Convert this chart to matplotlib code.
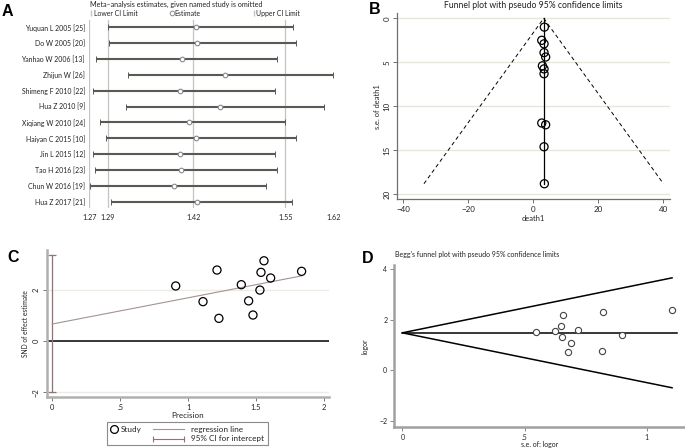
import matplotlib
matplotlib.use('Agg')
import matplotlib.pyplot as plt
from matplotlib.patches import Rectangle
from matplotlib import font_manager
import numpy as np

_names = {f.name for f in font_manager.fontManager.ttflist}
FAM = (['Liberation Sans Narrow'] if 'Liberation Sans Narrow' in _names else []) + ['Lato', 'DejaVu Sans']
plt.rcParams['font.family'] = FAM
plt.rcParams['axes.unicode_minus'] = True

# ---------------- data ----------------
# Panel A: sensitivity analysis (study omitted)
studies = ["Yuquan L 2005 [25]", "Do W 2005 [20]", "Yanhao W 2006 [13]", "Zhijun W [26]",
           "Shimeng F 2010 [22]", "Hua Z 2010 [9]", "Xiqiang W 2010 [24]", "Haiyan C 2015 [10]",
           "Jin L 2015 [12]", "Tao H 2016 [23]", "Chun W 2016 [19]", "Hua Z 2017 [21]"]
a_est = [1.419, 1.421, 1.398, 1.462, 1.395, 1.454, 1.408, 1.419, 1.395, 1.397, 1.386, 1.421]
a_low = [1.290, 1.291, 1.273, 1.320, 1.268, 1.317, 1.279, 1.287, 1.268, 1.271, 1.263, 1.294]
a_up = [1.561, 1.566, 1.538, 1.619, 1.534, 1.606, 1.549, 1.565, 1.534, 1.537, 1.521, 1.560]
a_ticks = [1.2625, 1.29, 1.415, 1.55, 1.62]
a_ticklabels = ["1.27", "1.29", "1.42", "1.55", "1.62"]
a_overall = [1.29, 1.415, 1.55]

# Panel B: funnel plot
b_effect = [3.4, 2.6, 3.3, 3.3, 3.8, 2.8, 3.3, 3.3, 2.6, 3.8, 3.3, 3.4]
b_se = [1.0, 2.5, 2.9, 3.9, 4.4, 5.4, 5.75, 6.3, 11.9, 12.1, 14.6, 18.8]
b_pooled = 3.2

# Panel C: Egger's regression
c_prec = [0.909, 1.213, 1.110, 1.227, 1.392, 1.446, 1.478, 1.529, 1.537, 1.559, 1.608, 1.836]
c_snd = [2.14, 2.76, 1.53, 0.88, 2.19, 1.56, 1.01, 1.98, 2.67, 3.12, 2.45, 2.71]
c_intercept = 0.66
c_slope = 1.02
c_ci = [-2.0, 3.35]

# Panel D: Begg's funnel plot
d_se = [0.546, 0.623, 0.656, 0.649, 0.652, 0.678, 0.690, 0.718, 0.822, 0.817, 0.900, 1.104]
d_logor = [1.50, 1.55, 2.18, 1.74, 1.32, 0.71, 1.09, 1.60, 2.30, 0.76, 1.39, 2.37]
d_pooled = 1.48

# ---------------- figure ----------------
W, H = 685, 448
fig = plt.figure(figsize=(W / 100, H / 100), dpi=100)
renderer = fig.canvas.get_renderer()


def fitted(s, target_px, base=10.0, **kw):
    """font size so that string s is about target_px wide"""
    t = fig.text(0, 0, s, fontsize=base, **kw)
    w = t.get_window_extent(renderer).width
    t.remove()
    return base * target_px / w


def px_axes(l, t, r, b):
    return fig.add_axes([l / W, 1 - b / H, (r - l) / W, (b - t) / H])


TXT = '#222222'
MINUS = '\u2212'

fsA_rows = fitted("Yuquan L 2005 [25]", 60)
fsA_head = fitted("Meta\u2013analysis estimates, given named study is omitted", 171)
fsA_leg = fitted("Lower CI Limit", 44)
fsA_tick = fsA_rows * 1.05
fsB_title = fitted("Funnel plot with pseudo 95% confidence limits", 179)
fsB_tick = fitted(MINUS + "40", 14)
fsB_lab = fitted("death1", 23.3)
fsC_tick = fitted("1.5", 10.5)
fsC_xlab = fitted("Precision", 32)
fsC_ylab = fitted("SND of effect estimate", 67)
fsC_leg = fitted("regression line", 52)
fsD_title = fitted("Begg's funnel plot with pseudo 95% confidence limits", 165)
fsD_lab = fsD_title

# ---------- Panel A ----------
axA = px_axes(89.2, 20, 333.6, 208)
axA.set_xlim(1.2625, 1.6205)
axA.set_ylim(11.4, -0.46)
for s in axA.spines.values():
    s.set_visible(False)
for v in [a_ticks[0]] + a_overall:
    axA.axvline(v, color='#c4c4c4', lw=0.9, zorder=1)
ya = np.arange(len(studies))
axA.hlines(ya, a_low, a_up, color='#5e5852', lw=1.5, zorder=2)
axA.plot(a_low, ya, ls='none', marker='|', ms=4, mew=0.7, color='#5e5852', zorder=2)
axA.plot(a_up, ya, ls='none', marker='|', ms=4, mew=0.7, color='#5e5852', zorder=2)
axA.scatter(a_est, ya, s=11, facecolors='white', edgecolors='#8a8a8a', linewidths=0.8, zorder=3)
axA.set_yticks(ya)
axA.set_yticklabels(studies, fontsize=fsA_rows, color=TXT)
axA.set_xticks(a_ticks)
axA.set_xticklabels(a_ticklabels, fontsize=fsA_tick, color=TXT)
axA.tick_params(axis='y', length=0, pad=3)
axA.tick_params(axis='x', length=0, pad=4.5)

# ---------- Panel B ----------
axB = px_axes(397.3, 13.3, 670, 199.3)
axB.set_xlim(-41.85, 42.06)
axB.set_ylim(20.57, -0.57)
for v in [0, 5, 10, 15, 20]:
    axB.axhline(v, color='#e6e6da', lw=1.0, zorder=0)
for k in ['top', 'right']:
    axB.spines[k].set_visible(False)
for k in ['left', 'bottom']:
    axB.spines[k].set_color('#6f6f6f')
    axB.spines[k].set_linewidth(0.9)
se_max = max(b_se)
axB.plot([b_pooled - 1.96 * se_max, b_pooled, b_pooled + 1.96 * se_max], [se_max, 0, se_max],
         color='black', lw=0.7, ls=(0, (4, 3)))
axB.plot([b_pooled, b_pooled], [0, se_max], color='black', lw=0.9)
axB.scatter(b_effect, b_se, s=34, facecolors='none', edgecolors='black', linewidths=0.9, zorder=3)
axB.set_xticks([-40, -20, 0, 20, 40])
axB.set_xticklabels([MINUS + '40', MINUS + '20', '0', '20', '40'], fontsize=fsB_tick, color=TXT)
axB.set_yticks([0, 5, 10, 15, 20])
axB.set_yticklabels(['0', '5', '10', '15', '20'], fontsize=fsB_tick, rotation=90, va='center', color=TXT)
axB.tick_params(length=3, width=0.7, color='#6f6f6f', pad=2)
axB.set_xlabel('death1', fontsize=fsB_lab, labelpad=1, color=TXT)
axB.set_ylabel('s.e. of death1', fontsize=fsB_lab, labelpad=2, color=TXT)

# ---------- Panel C ----------
axC = px_axes(46.7, 250, 329.3, 397)
axC.set_xlim(-0.041, 2.04)
axC.set_ylim(-2.18, 3.54)
for k in ['top', 'right']:
    axC.spines[k].set_visible(False)
for k in ['left', 'bottom']:
    axC.spines[k].set_color('#b0b0b0')
    axC.spines[k].set_linewidth(1.8)
for v in [2, -2]:
    axC.axhline(v, color='#ecece4', lw=1.0, zorder=0)
axC.axhline(0, color='black', lw=1.1, zorder=1)
axC.plot([0, 0], c_ci, color='#8e7474', lw=0.9)
axC.plot([0, 0], c_ci, ls='none', marker='_', ms=6, mew=0.9, color='#8e7474')
xr = np.array([0, max(c_prec)])
axC.plot(xr, c_intercept + c_slope * xr, color='#a39393', lw=0.8)
axC.scatter(c_prec, c_snd, s=34, facecolors='none', edgecolors='black', linewidths=0.9, zorder=3)
axC.set_xticks([0, 0.5, 1, 1.5, 2])
axC.set_xticklabels(['0', '.5', '1', '1.5', '2'], fontsize=fsC_tick, color=TXT)
axC.set_yticks([-2, 0, 2])
axC.set_yticklabels([MINUS + '2', '0', '2'], fontsize=fsC_tick, rotation=90, va='center', color=TXT)
axC.tick_params(length=3, width=0.7, color='#777777', pad=2)
axC.set_xlabel('Precision', fontsize=fsC_xlab, labelpad=1, color=TXT)
axC.set_ylabel('SND of effect estimate', fontsize=fsC_ylab, labelpad=3, color=TXT)

# ---------- Panel D ----------
axD = px_axes(394.3, 265, 685, 427.3)
axD.set_xlim(-0.033, 1.157)
axD.set_ylim(-2.24, 4.15)
for k in ['top', 'right']:
    axD.spines[k].set_visible(False)
for k in ['left', 'bottom']:
    axD.spines[k].set_color('#a0a0a0')
    axD.spines[k].set_linewidth(1.8)
sed = max(d_se)
axD.plot([sed, 0, sed], [d_pooled + 1.96 * sed, d_pooled, d_pooled - 1.96 * sed], color='black', lw=1.1)
axD.plot([0, sed * 1.02], [d_pooled, d_pooled], color='black', lw=1.1)
axD.scatter(d_se, d_logor, s=20, facecolors='white', edgecolors='#444444', linewidths=0.8, zorder=3)
axD.set_xticks([0, 0.5, 1])
axD.set_xticklabels(['0', '.5', '1'], fontsize=fsD_lab, color=TXT)
axD.set_yticks([-2, 0, 2, 4])
axD.set_yticklabels([MINUS + '2', '0', '2', '4'], fontsize=fsD_lab, color=TXT)
axD.tick_params(length=3, width=0.7, color='#888888', pad=2)
axD.set_xlabel('s.e. of: logor', fontsize=fsD_lab, labelpad=0, color=TXT)
axD.set_ylabel('logor', fontsize=fsD_lab, labelpad=8, color=TXT)

# ---------- overlay for titles, letters and legends ----------
ov = fig.add_axes([0, 0, 1, 1])
ov.set_xlim(0, W)
ov.set_ylim(H, 0)
ov.axis('off')

letter_kw = dict(fontsize=11.5, fontweight='bold', family=['Liberation Sans', 'DejaVu Sans'],
                 va='center', ha='left', color='black')
ov.text(2, 11.5, 'A', **letter_kw)
ov.text(369, 10, 'B', **letter_kw)
ov.text(7, 257, 'C', **letter_kw)
ov.text(362, 258.5, 'D', **letter_kw)

ov.text(90.5, 4, 'Meta\u2013analysis estimates, given named study is omitted', fontsize=fsA_head,
        va='center', color=TXT)
ov.plot([91.3], [13.3], marker='|', ms=4, color='#c4c4c4')
ov.text(94.5, 13.3, 'Lower CI Limit', fontsize=fsA_leg, va='center', color=TXT)
ov.plot([172], [13.3], marker='o', ms=3.3, mfc='white', mec='#8a8a8a', mew=0.7)
ov.text(174.5, 13.3, 'Estimate', fontsize=fsA_leg, va='center', color=TXT)
ov.plot([254], [13.3], marker='|', ms=4, color='#c4c4c4')
ov.text(256.5, 13.3, 'Upper CI Limit', fontsize=fsA_leg, va='center', color=TXT)

ov.text(533, 6, 'Funnel plot with pseudo 95% confidence limits', fontsize=fsB_title,
        ha='center', va='center', color=TXT)
ov.text(395, 255, "Begg's funnel plot with pseudo 95% confidence limits", fontsize=fsD_title,
        ha='left', va='center', color=TXT)

# legend of panel C
ov.add_patch(Rectangle((107.3, 421.7), 161, 23.3, facecolor='white', edgecolor='#8a8a8a', lw=0.8))
ov.plot([114], [429.5], marker='o', ms=5.6, mfc='none', mec='black', mew=0.9)
ov.text(120.5, 429.5, 'Study', fontsize=fsC_leg, va='center', color=TXT)
ov.plot([153.3, 184.3], [429.5, 429.5], color='#a39393', lw=0.8)
ov.text(190.7, 429.5, 'regression line', fontsize=fsC_leg, va='center', color=TXT)
ov.plot([153.3, 184.3], [439, 439], color='#8e7474', lw=0.8)
ov.plot([153.3, 184.3], [439, 439], ls='none', marker='|', ms=4, mew=0.8, color='#8e7474')
ov.text(190.7, 439, '95% CI for intercept', fontsize=fsC_leg, va='center', color=TXT)

fig.savefig('out.png', dpi=100)
